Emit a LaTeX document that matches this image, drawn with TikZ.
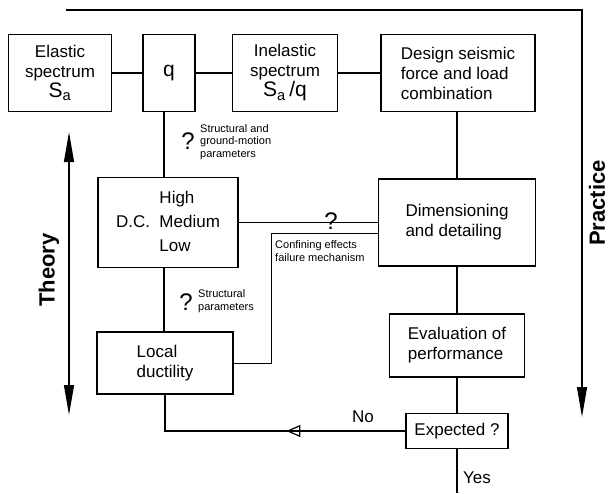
\documentclass[tikz,border=0pt]{standalone}
\usepackage{fontspec}
\setmainfont{Liberation Sans}
\usetikzlibrary{arrows.meta,decorations.markings}

\begin{document}
\begin{tikzpicture}[x=1pt,y=-1pt,
    box/.style={rectangle,draw,line width=1.2pt,inner sep=2pt,align=center,font=\fontsize{17}{20}\selectfont},
    link/.style={line width=1.2pt},
    faint/.style={line width=0.6pt},
    note/.style={anchor=west,align=left,inner sep=0pt,font=\fontsize{11}{12.5}\selectfont},
    query/.style={inner sep=0pt,font=\fontsize{24}{24}\selectfont},
    lbl/.style={inner sep=1pt,font=\fontsize{17}{20}\selectfont},
    side/.style={rotate=90,inner sep=0pt,font=\bfseries\fontsize{22}{22}\selectfont},
    big/.style={font=\fontsize{21}{24}\selectfont}]

    \useasboundingbox (0,0) rectangle (612,493);

    % Top row
    \node[box,minimum width=103pt,minimum height=77pt] (elastic) at (60,73) {Elastic\\spectrum\\{\fontsize{21}{24}\selectfont S\textsubscript{a}}};
    \node[box,minimum width=52pt,minimum height=77pt,big] (q) at (169,73) {q};
    \node[box,minimum width=105pt,minimum height=77pt] (inelastic) at (285,73) {Inelastic\\spectrum\\{\fontsize{21}{24}\selectfont S\textsubscript{a}\,/q}};
    \node[box,align=left,minimum width=154pt,minimum height=77pt] (design) at (458,73) {Design seismic\\force and load\\combination};

    % Middle boxes
    \node[box,minimum width=140pt,minimum height=90pt] (dc) at (168,222.5) {\fontsize{17}{24}\selectfont\begin{tabular}{@{}l@{\ \ }l@{}}& High\\D.C. & Medium\\& Low\end{tabular}};
    \node[box,align=left,minimum width=157pt,minimum height=87pt] (dim) at (457,222.5) {Dimensioning\\and detailing};

    % Lower boxes
    \node[box,align=left,minimum width=136pt,minimum height=62pt] (local) at (165,363) {Local\\ductility};
    \node[box,align=left,minimum width=135pt,minimum height=63pt] (eval) at (457,345.5) {Evaluation of\\performance};
    \node[box,minimum width=102pt,minimum height=35pt] (expected) at (457,431) {Expected ?};

    % Helper points
    \coordinate (spine) at (164,0);
    \coordinate (bend) at (271,233);
    \coordinate (exit) at (457,493);
    \coordinate (loopstart) at (66,10);
    \coordinate (loopend) at (582,417);
    \coordinate (theorytop) at (69,132);
    \coordinate (theorybot) at (69,415);

    % Connectors
    \draw[link] (elastic) -- (q);
    \draw[link] (q) -- (inelastic);
    \draw[link] (inelastic) -- (design);
    \draw[link] (design.south -| dim.north) -- (dim);
    \draw[link] (dim) -- (eval);
    \draw[link] (eval) -- (expected);
    \draw[link] (expected) -- (exit);
    \draw[link] (q.south -| spine) -- (dc.north -| spine);
    \draw[link] (dc.south -| spine) -- (local.north -| spine);
    \draw[link] (dc) -- (dim);
    \draw[faint] (dim.west |- bend) -- (bend) |- (local.east);
    \draw[link,postaction={decorate},decoration={markings,
        mark=at position 0.43 with {\arrow{Triangle[open,length=14pt,width=12pt]}}}]
        (expected.west) -| (local.south);

    % Theory and practice
    \draw[link,{Triangle[length=30pt,width=10pt]}-{Triangle[length=30pt,width=10pt]}] (theorytop) -- (theorybot);
    \draw[link,-{Triangle[length=30pt,width=10pt]}] (loopstart) -| (loopend);
    \node[side] (theory) at (49,270) {Theory};
    \node[side] (practice) at (597,203) {Practice};

    % Open questions
    \node[query] (ask1) at (188,141) {?};
    \node[note] (params1) at (200,142) {Structural and\\ground-motion\\parameters};
    \node[query] (ask2) at (331,221) {?};
    \node[query] (ask3) at (186,302) {?};
    \node[note] (params2) at (198,301) {Structural\\parameters};
    \node[note] (confine) at (275,251) {Confining effects\\failure mechanism};

    % Answers
    \node[lbl] (no) at (363,417) {No};
    \node[lbl] (yes) at (477,478) {Yes};
\end{tikzpicture}
\end{document}
